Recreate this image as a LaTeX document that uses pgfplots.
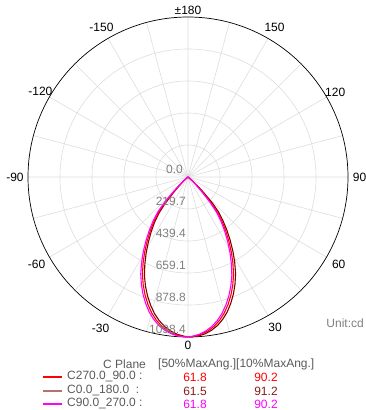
\documentclass[border=0pt]{standalone}
\usepackage{fontspec}
\setmainfont{Liberation Sans}
\usepackage{pgfplots}
\pgfplotsset{compat=1.18}
\usepackage{pgfplotstable}
\usepgfplotslibrary{polar}
\definecolor{gridgray}{HTML}{DDDDDD}
\definecolor{labgray}{HTML}{808080}
\definecolor{txtgray}{HTML}{5A5A5A}
\definecolor{lcred}{HTML}{FF0000}
\definecolor{lcdark}{HTML}{800000}
\definecolor{lcdarkleg}{HTML}{B87070}
\definecolor{lcdarktxt}{HTML}{8B1A1A}
\definecolor{lcmag}{HTML}{FF00FF}

% angle a: C-plane gamma angle (0 = down, 90 = right), I in cd
\pgfplotstableread{
a I
-60 0
-55 4
-50 18
-48 40
-46 82
-44 142
-42 232
-40 312
-37.5 384
-35 452
-32.5 522
-30 595
-27.5 668
-25 740
-22.5 803
-20 862
-17.5 916
-15 965
-12.5 1006
-10 1040
-7.5 1065
-5 1083
-2.5 1094
0 1098
2.5 1094
5 1083
7.5 1065
10 1040
12.5 1006
15 965
17.5 916
20 862
22.5 803
25 740
27.5 668
30 595
32.5 522
35 452
37.5 384
40 312
42 232
44 142
46 82
48 40
50 18
55 4
60 0
}\tabred

\pgfplotstableread{
a I
-58.8 0
-53.8 5
-48.8 22
-46.8 46
-44.8 90
-42.8 150
-40.8 242
-38.8 318
-36.3 390
-33.8 456
-31.3 524
-28.8 597
-26.3 669
-23.8 741
-21.3 804
-18.8 862
-16.3 916
-13.8 965
-11.3 1006
-8.8 1040
-6.3 1065
-3.8 1083
-1.3 1094
1.2 1098
3.7 1094
6.2 1083
8.7 1065
11.2 1040
13.7 1006
16.2 965
18.7 916
21.2 862
23.7 803
26.2 740
28.7 668
31.2 595
33.7 522
36.2 452
38.7 384
41.2 318
43.2 242
45.2 150
47.2 90
49.2 46
51.2 22
56.2 5
61.2 0
}\tabdark

\pgfplotstableread{
a I
-61 0
-56 4
-51 18
-49 40
-47 82
-45 142
-43 232
-41 312
-38.5 384
-36 452
-33.5 522
-31 595
-28.5 668
-26 740
-23.5 803
-21 862
-18.5 916
-16 965
-13.5 1006
-11 1040
-8.5 1065
-6 1083
-3.5 1094
-1 1098
1.5 1094
4 1083
6.5 1065
9 1040
11.5 1006
14 965
16.5 916
19 862
21.5 803
24 740
26.5 668
29 595
31.5 522
34 452
36.5 384
39 312
41 232
43 142
45 82
47 40
49 18
54 4
59 0
}\tabmag

\begin{document}
\begin{tikzpicture}
\begin{polaraxis}[
  width=320pt, height=320pt, scale only axis,
  ymin=0, ymax=1098.4,
  xtick={0,30,...,330},
  minor xtick={15,45,...,345},
  ytick={219.7,439.4,659.1,878.8},
  xticklabels={}, yticklabels={},
  grid=both,
  major grid style={draw=gridgray, line width=0.6pt},
  minor grid style={draw=gridgray, line width=0.6pt},
  x axis line style={black, line width=0.7pt},
  y axis line style={draw=none},
  tick style={draw=none},
  clip=false,
]
\addplot[lcdark, line width=1.1pt, no markers] table[x expr=\thisrow{a}-90, y=I] {\tabdark};
\addplot[lcred, line width=1.1pt, no markers] table[x expr=\thisrow{a}-90, y=I] {\tabred};
\addplot[lcmag, line width=1.1pt, no markers] table[x expr=\thisrow{a}-90, y=I] {\tabmag};
\coordinate (C) at (axis cs:0,0);
% angular labels
\begin{scope}[every node/.style={font=\fontsize{12}{14}\selectfont, inner sep=0pt, anchor=center}]
\node at (axis cs:-90,1153) {0};
\node at (axis cs:-60,1195) {30};
\node at (axis cs:-30,1195) {60};
\node at (axis cs:0,1178) {90};
\node at (axis cs:30,1167) {120};
\node at (axis cs:60,1188) {150};
\node at (axis cs:90,1146) {±180};
\node at (axis cs:120,1188) {-150};
\node at (axis cs:150,1170) {-120};
\node at (axis cs:180,1188) {-90};
\node at (axis cs:210,1200) {-60};
\node at (axis cs:240,1200) {-30};
\end{scope}
\end{polaraxis}
% radial labels
\begin{scope}[every node/.style={font=\fontsize{12}{14}\selectfont, text=labgray, inner sep=0pt, anchor=south east}]
\node at ([xshift=-5pt,yshift=3pt]C) {0.0};
\node at ([xshift=-2pt,yshift=-29pt]C) {219.7};
\node at ([xshift=-2pt,yshift=-61pt]C) {439.4};
\node at ([xshift=-2pt,yshift=-93pt]C) {659.1};
\node at ([xshift=-2pt,yshift=-125pt]C) {878.8};
\node at ([xshift=-2pt,yshift=-157pt]C) {1098.4};
\node[anchor=east] at ([xshift=176pt,yshift=-146pt]C) {Unit:cd};
\end{scope}
% legend block
\draw[draw=lcred, line width=1.2pt] ([xshift=-145pt,yshift=-200pt]C) -- ([xshift=-126pt,yshift=-200pt]C);
\draw[draw=lcdarkleg, line width=2pt] ([xshift=-145pt,yshift=-214pt]C) -- ([xshift=-126pt,yshift=-214pt]C);
\draw[draw=lcmag, line width=1.2pt] ([xshift=-145pt,yshift=-227pt]C) -- ([xshift=-126pt,yshift=-227pt]C);
\begin{scope}[every node/.style={font=\fontsize{12}{14}\selectfont, inner sep=0pt}]
\node[anchor=west, text=txtgray] at ([xshift=-85pt,yshift=-187pt]C) {C Plane};
\node[anchor=west, text=txtgray] at ([xshift=-30pt,yshift=-187pt]C) {[50\%MaxAng.][10\%MaxAng.]};
\node[anchor=west, text=txtgray] at ([xshift=-121pt,yshift=-200pt]C) {C270.0\_90.0 :};
\node[text=lcred] at ([xshift=7pt,yshift=-200pt]C) {61.8};
\node[text=lcred] at ([xshift=78pt,yshift=-200pt]C) {90.2};
\node[anchor=west, text=txtgray] at ([xshift=-121pt,yshift=-214pt]C) {C0.0\_180.0\ \ :};
\node[text=lcdarktxt] at ([xshift=7pt,yshift=-214pt]C) {61.5};
\node[text=lcdarktxt] at ([xshift=78pt,yshift=-214pt]C) {91.2};
\node[anchor=west, text=txtgray] at ([xshift=-121pt,yshift=-227pt]C) {C90.0\_270.0 :};
\node[text=lcmag] at ([xshift=7pt,yshift=-227pt]C) {61.8};
\node[text=lcmag] at ([xshift=78pt,yshift=-227pt]C) {90.2};
\end{scope}
\pgfresetboundingbox
\path ([xshift=-188pt,yshift=177pt]C) rectangle ([xshift=178pt,yshift=-233pt]C);
\end{tikzpicture}
\end{document}
